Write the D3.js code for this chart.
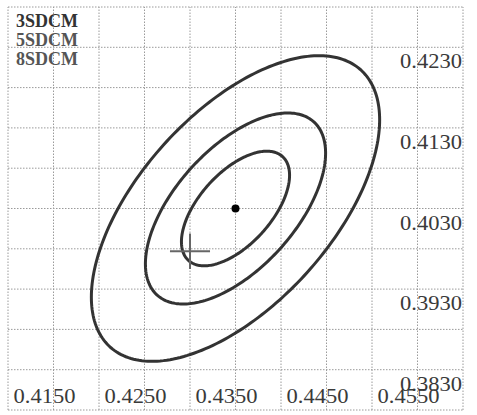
<!DOCTYPE html>
<html lang="en">
<head>
	<meta charset="UTF-8">
	<title>SDCM ellipses</title>
	<script src="https://cdn.jsdelivr.net/npm/d3@7/dist/d3.min.js"></script>
	<style>
		body { margin: 0; background: #fff; }
		svg { display: block; }
		text { font-family: "Liberation Serif", "DejaVu Serif", serif; }
	</style>
</head>
<body>
	<div id="vis"></div>

	<script>
		var width = 477;
		var height = 415;

		// chromaticity grid, every 0.005
		var xDomain = [0.4100, 0.4600];
		var yDomain = [0.3780, 0.4280];
		var xGrid = [0.4100, 0.4150, 0.4200, 0.4250, 0.4300, 0.4350, 0.4400, 0.4450, 0.4500, 0.4550, 0.4600];
		var yGrid = [0.3780, 0.3830, 0.3880, 0.3930, 0.3980, 0.4030, 0.4080, 0.4130, 0.4180, 0.4230, 0.4280];
		var xLabels = [0.4150, 0.4250, 0.4350, 0.4450, 0.4550];
		var yLabels = [0.4230, 0.4130, 0.4030, 0.3930, 0.3830];

		// ellipse centre and its one-step deviation
		var centre = [0.4350, 0.4030];
		var sigmaX = 0.00198;
		var sigmaY = 0.00237;
		var rho = 0.58;
		var steps = [3, 5, 8];
		var legendNames = ["3SDCM", "5SDCM", "8SDCM"];

		// cross marker
		var cross = [0.4300, 0.3977];
		var crossArm = 0.0022;

		var svg = d3.select("#vis").append("svg")
				.attr("width", width)
				.attr("height", height);

		svg.append("rect")
			.attr("width", width)
			.attr("height", height)
			.attr("fill", "#fff");

		var x = d3.scaleLinear().domain(xDomain).range([8, 463]);
		var y = d3.scaleLinear().domain(yDomain).range([410, 7]);

		// dotted grid
		svg.append("g").selectAll("line")
			.data(xGrid)
			.join("line")
				.attr("x1", d => x(d)).attr("x2", d => x(d))
				.attr("y1", y(yDomain[0])).attr("y2", y(yDomain[1]))
				.attr("stroke", "#9a9a9a")
				.attr("stroke-width", 1)
				.attr("stroke-dasharray", "1.5,1.5");

		svg.append("g").selectAll("line")
			.data(yGrid)
			.join("line")
				.attr("y1", d => y(d)).attr("y2", d => y(d))
				.attr("x1", x(xDomain[0])).attr("x2", x(xDomain[1]))
				.attr("stroke", "#9a9a9a")
				.attr("stroke-width", 1)
				.attr("stroke-dasharray", "1.5,1.5");

		// tick labels drawn inside the plot
		svg.append("g").selectAll("text")
			.data(xLabels)
			.join("text")
				.attr("x", d => x(d) - 40)
				.attr("y", 403)
				.attr("textLength", 62)
				.attr("lengthAdjust", "spacingAndGlyphs")
				.attr("font-size", 21)
				.attr("fill", "#3a3a3a")
				.text(d => d.toFixed(4));

		svg.append("g").selectAll("text")
			.data(yLabels)
			.join("text")
				.attr("x", 400)
				.attr("y", d => y(d) + 21)
				.attr("textLength", 62)
				.attr("lengthAdjust", "spacingAndGlyphs")
				.attr("font-size", 21)
				.attr("fill", "#3a3a3a")
				.text(d => d.toFixed(4));

		// ellipses
		var t = d3.range(0, 2 * Math.PI, Math.PI / 120);
		var line = d3.line()
			.x(p => x(p[0]))
			.y(p => y(p[1]))
			.curve(d3.curveLinearClosed);

		function ellipse(k) {
			return t.map(function(a) {
				var dx = k * sigmaX * Math.cos(a);
				var dy = k * sigmaY * (rho * Math.cos(a) + Math.sqrt(1 - rho * rho) * Math.sin(a));
				return [centre[0] + dx, centre[1] + dy];
			});
		}

		svg.append("g").selectAll("path")
			.data(steps)
			.join("path")
				.attr("d", k => line(ellipse(k)))
				.attr("fill", "none")
				.attr("stroke", "#333")
				.attr("stroke-width", 3);

		// cross marker
		svg.append("line")
			.attr("x1", x(cross[0] - crossArm)).attr("x2", x(cross[0] + crossArm))
			.attr("y1", y(cross[1])).attr("y2", y(cross[1]))
			.attr("stroke", "#666").attr("stroke-width", 2);
		svg.append("line")
			.attr("x1", x(cross[0])).attr("x2", x(cross[0]))
			.attr("y1", y(cross[1] + crossArm)).attr("y2", y(cross[1] - crossArm))
			.attr("stroke", "#666").attr("stroke-width", 2);

		// centre point
		svg.append("circle")
			.attr("cx", x(centre[0]))
			.attr("cy", y(centre[1]))
			.attr("r", 4)
			.attr("fill", "#000");

		// legend
		svg.append("g").selectAll("text")
			.data(legendNames)
			.join("text")
				.attr("x", 16)
				.attr("y", (d, i) => 27 + i * 19)
				.attr("textLength", 62)
				.attr("lengthAdjust", "spacingAndGlyphs")
				.attr("font-size", 18)
				.attr("font-weight", "bold")
				.attr("fill", (d, i) => i === 0 ? "#333" : "#555")
				.text(d => d);
	</script>
</body>
</html>
